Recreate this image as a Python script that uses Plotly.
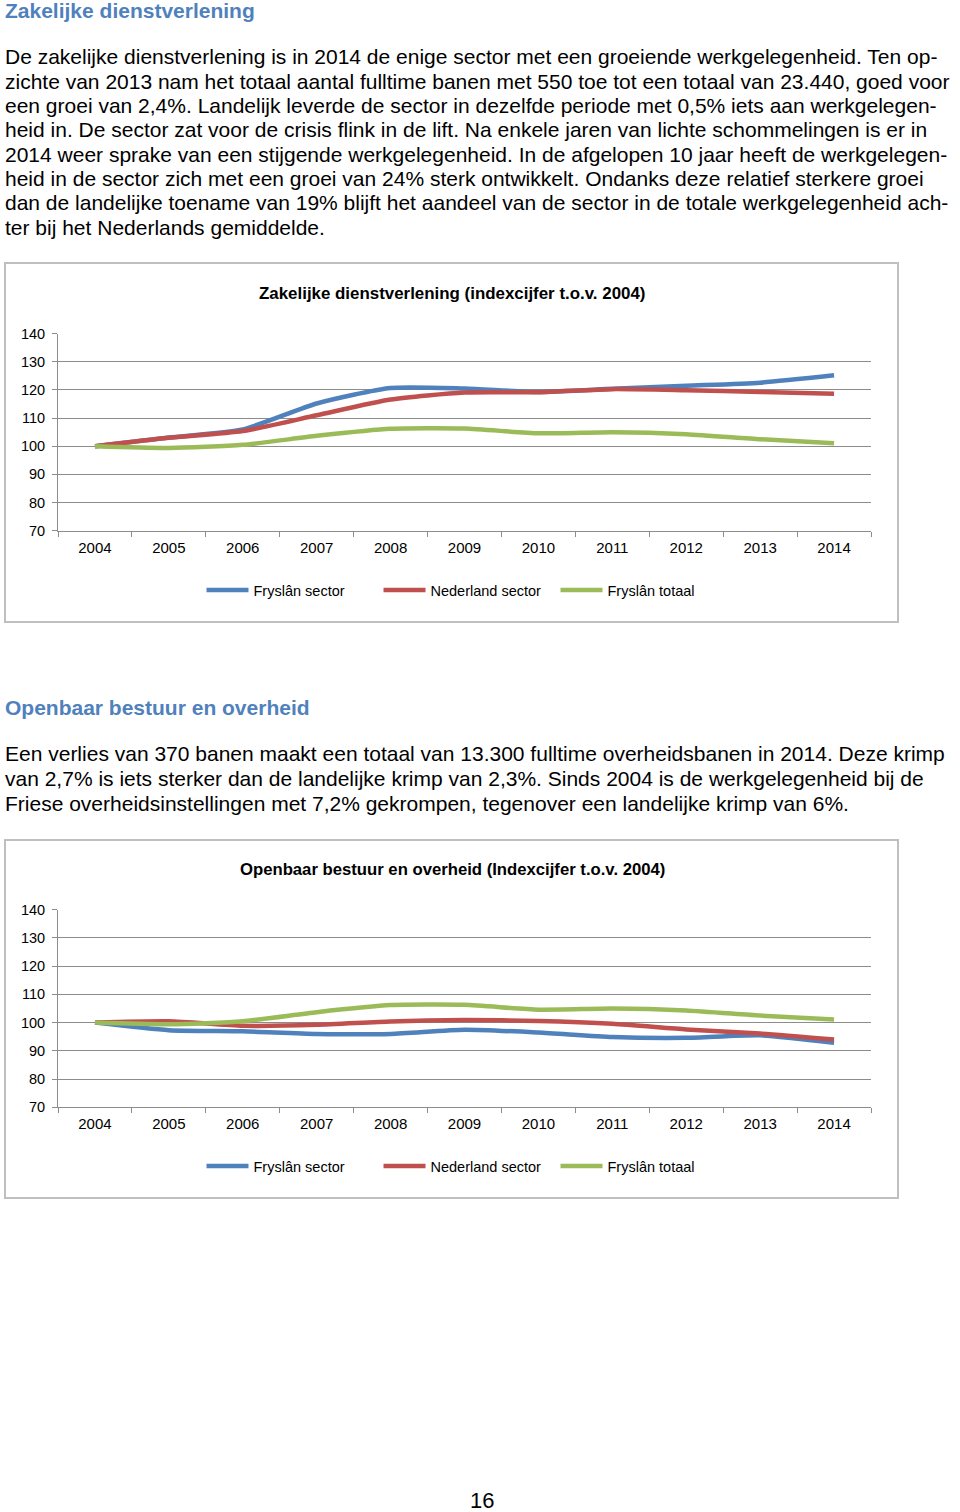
import plotly.graph_objects as go

W, H = 960, 1512

years = ["2004", "2005", "2006", "2007", "2008", "2009", "2010", "2011", "2012", "2013", "2014"]
series_names = ["Fryslân sector", "Nederland sector", "Fryslân totaal"]

# Chart 1: Zakelijke dienstverlening (index 2004 = 100)
zd_fryslan_sector = [100, 103.1, 106.0, 115.2, 120.7, 120.5, 119.3, 120.4, 121.5, 122.6, 125.2]
zd_nederland_sector = [100, 103.0, 105.4, 111.0, 116.6, 119.1, 119.2, 120.3, 119.9, 119.3, 118.7]
fryslan_totaal = [100, 99.4, 100.5, 103.7, 106.2, 106.3, 104.6, 105.0, 104.3, 102.5, 101.1]

# Chart 2: Openbaar bestuur en overheid (index 2004 = 100)
ob_fryslan_sector = [100, 97.3, 96.9, 96.0, 96.0, 97.5, 96.5, 94.9, 94.6, 95.5, 92.9]
ob_nederland_sector = [100, 100.5, 98.9, 99.2, 100.4, 100.9, 100.6, 99.6, 97.6, 96.1, 94.0]

y_ticks = [70, 80, 90, 100, 110, 120, 130, 140]

colors = ["#4F81BD", "#C0504D", "#9BBB59"]

heading1 = "Zakelijke dienstverlening"
body1 = [
    "De zakelijke dienstverlening is in 2014 de enige sector met een groeiende werkgelegenheid. Ten op-",
    "zichte van 2013 nam het totaal aantal fulltime banen met 550 toe tot een totaal van 23.440, goed voor",
    "een groei van 2,4%. Landelijk leverde de sector in dezelfde periode met 0,5% iets aan werkgelegen-",
    "heid in. De sector zat voor de crisis flink in de lift. Na enkele jaren van lichte schommelingen is er in",
    "2014 weer sprake van een stijgende werkgelegenheid. In de afgelopen 10 jaar heeft de werkgelegen-",
    "heid in de sector zich met een groei van 24% sterk ontwikkelt. Ondanks deze relatief sterkere groei",
    "dan de landelijke toename van 19% blijft het aandeel van de sector in de totale werkgelegenheid ach-",
    "ter bij het Nederlands gemiddelde.",
]
title1 = "Zakelijke dienstverlening (indexcijfer t.o.v. 2004)"

heading2 = "Openbaar bestuur en overheid"
body2 = [
    "Een verlies van 370 banen maakt een totaal van 13.300 fulltime overheidsbanen in 2014. Deze krimp",
    "van 2,7% is iets sterker dan de landelijke krimp van 2,3%. Sinds 2004 is de werkgelegenheid bij de",
    "Friese overheidsinstellingen met 7,2% gekrompen, tegenover een landelijke krimp van 6%.",
]
title2 = "Openbaar bestuur en overheid (Indexcijfer t.o.v. 2004)"
page_number = "16"

FONT = "Liberation Sans, Arial, sans-serif"


def px(x):
    return x / W


def py(y):
    return 1 - y / H


fig = go.Figure()

chart1 = [zd_fryslan_sector, zd_nederland_sector, fryslan_totaal]
chart2 = [ob_fryslan_sector, ob_nederland_sector, fryslan_totaal]

for i, vals in enumerate(chart1):
    fig.add_trace(go.Scatter(
        x=years, y=vals, mode="lines", name=series_names[i],
        line=dict(color=colors[i], width=4.5, shape="spline", smoothing=0.6),
        xaxis="x", yaxis="y", legend="legend", hoverinfo="skip"))
for i, vals in enumerate(chart2):
    fig.add_trace(go.Scatter(
        x=years, y=vals, mode="lines", name=series_names[i],
        line=dict(color=colors[i], width=4.5, shape="spline", smoothing=0.6),
        xaxis="x2", yaxis="y2", legend="legend2", hoverinfo="skip"))

grid_col = "#8c8c8c"
xdom = [px(58), px(871)]

xaxis_common = dict(
    type="category", range=[-0.5, 10.5], domain=xdom,
    showline=True, linecolor=grid_col, linewidth=1,
    ticks="outside", tickson="boundaries", ticklen=5, tickcolor=grid_col,
    showgrid=False, tickfont=dict(family=FONT, size=15, color="#000"),
    ticklabelstandoff=3, fixedrange=True,
)
yaxis_common = dict(
    range=[70, 140], tickvals=y_ticks,
    showline=True, linecolor=grid_col, linewidth=1,
    ticks="outside", ticklen=5, tickcolor=grid_col,
    showgrid=True, gridcolor=grid_col, gridwidth=1, zeroline=False,
    tickfont=dict(family=FONT, size=14.5, color="#000"), fixedrange=True,
    ticklabelstandoff=4,
)

legend_common = dict(orientation="h", xanchor="center", yanchor="middle",
                     font=dict(family=FONT, size=14.5, color="#000"),
                     bgcolor="rgba(0,0,0,0)", itemwidth=42,
                     entrywidth=120, entrywidthmode="pixels")

fig.update_layout(
    width=W, height=H,
    margin=dict(l=0, r=0, t=0, b=0, autoexpand=False),
    paper_bgcolor="white", plot_bgcolor="white",
    xaxis=dict(**xaxis_common, anchor="y"),
    yaxis=dict(**yaxis_common, domain=[py(530.7), py(333.7)], anchor="x"),
    xaxis2=dict(**xaxis_common, anchor="y2"),
    yaxis2=dict(**yaxis_common, domain=[py(1107.3), py(909.7)], anchor="x2"),
    legend=dict(**legend_common, x=px(467), y=py(590)),
    legend2=dict(**legend_common, x=px(467), y=py(1166)),
    showlegend=True,
)

# Frames around the charts
frame_col = "#bfbfbf"
fig.add_shape(type="rect", xref="paper", yref="paper", x0=px(5), x1=px(898), y0=py(622), y1=py(263),
              line=dict(color=frame_col, width=2), layer="below")
fig.add_shape(type="rect", xref="paper", yref="paper", x0=px(5), x1=px(898), y0=py(1198), y1=py(840),
              line=dict(color=frame_col, width=2), layer="below")

annotations = []
head_col = "#4F81BD"


def text_ann(txt, x, y, size, bold=False, color="#000", anchor="left"):
    t = f"<b>{txt}</b>" if bold else txt
    annotations.append(dict(text=t, x=px(x), y=py(y), xref="paper", yref="paper",
                            xanchor=anchor, yanchor="middle", showarrow=False,
                            font=dict(family=FONT, size=size, color=color)))


text_ann(heading1, 3, 10, 21, bold=True, color=head_col)
for i, line in enumerate(body1):
    text_ann(line, 3, 57 + i * 24.3, 21)
text_ann(title1, 451.5, 294, 16.9, bold=True, anchor="center")

text_ann(heading2, 3, 707, 21, bold=True, color=head_col)
for i, line in enumerate(body2):
    text_ann(line, 3, 754 + i * 24.5, 21)
text_ann(title2, 452, 870, 16.7, bold=True, anchor="center")

text_ann(page_number, 482, 1500, 22, anchor="center")

fig.update_layout(annotations=annotations)

fig.write_html("out.html", config={"displayModeBar": False},
               post_script="document.body.style.margin='0';document.body.style.overflow='hidden';")
